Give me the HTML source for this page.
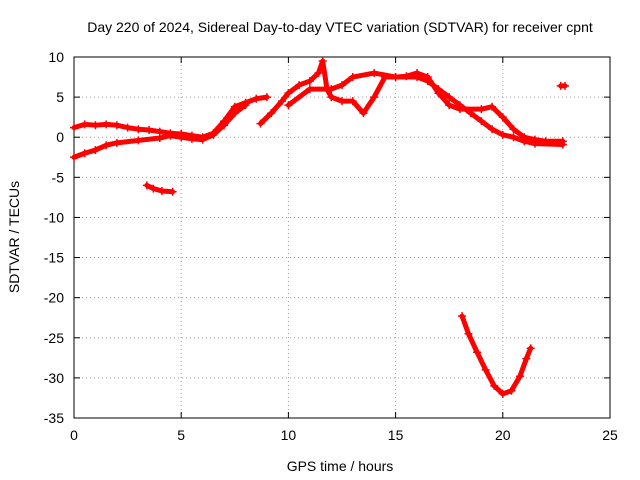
<!DOCTYPE html>
<html><head><meta charset="utf-8"><style>
body{margin:0;background:#fff;}
svg{display:block;font-family:"Liberation Sans",sans-serif;}
</style></head><body>
<svg id="c" width="640" height="480"></svg>
<script>
const xTicks=[0,5,10,15,20,25];
const yTicks=[10,5,0,-5,-10,-15,-20,-25,-30,-35];
const seriesUpper=[[0,1.2],[0.5,1.6],[1,1.5],[1.5,1.6],[2,1.5],[2.5,1.2],[3,1],[3.5,0.9],[4,0.7],[4.5,0.5],[5,0.4],[5.5,0.2],[6,0],[6.5,0.5],[7,2],[7.5,3.8],[8,4.3],[8.5,4.8],[9,5]];
const seriesLower=[[0,-2.5],[0.5,-2],[1,-1.6],[1.5,-1],[2,-0.7],[3,-0.4],[4,-0.1],[4.5,0.2],[5,0],[5.5,-0.2],[6,-0.3],[6.5,0.3],[7,1.5],[7.5,3],[8,4]];
const seriesShort=[[3.4,-6],[3.7,-6.4],[4.1,-6.7],[4.6,-6.8]];
const seriesMain=[[8.7,1.7],[9.2,3],[9.7,4.5],[10,5.5],[10.5,6.5],[11,7],[11.4,8],[11.6,9.5],[11.8,6],[12,5],[12.5,4.5],[13,4.5],[13.5,3],[14,5],[14.5,7.5],[15,7.5],[15.5,7.6],[16,8],[16.5,7.5],[17,5.5],[17.5,4],[18,3.5],[19,3.5],[19.5,3.8],[20,2.5],[20.5,1],[21,0],[21.5,-0.3],[22,-0.5],[22.8,-0.5]];
const seriesSecond=[[10,4],[11,6],[12,6],[12.5,6.5],[13,7.5],[14,8],[15,7.5],[16,7.5],[16.5,7],[17,6],[17.5,5],[18,4],[18.5,3],[19,2],[19.5,1],[20,0.3],[20.5,0],[21,-0.5],[21.5,-0.8],[22.8,-0.9]];
const seriesDip=[[18.1,-22.3],[18.4,-24.5],[18.8,-26.8],[19.2,-29],[19.6,-31],[20,-32],[20.4,-31.6],[20.8,-29.8],[21.1,-27.6],[21.3,-26.3]];
const seriesDot=[[22.7,6.4],[22.9,6.4]];
const L=74,R=610,T=57,B=418;
const X=v=>L+(v-0)/25*(R-L), Y=v=>T+(10-v)/45*(B-T);
const svg=document.getElementById('c'),NS='http://www.w3.org/2000/svg';
function mk(t,a,p){const e=document.createElementNS(NS,t);for(const k in a)e.setAttribute(k,a[k]);(p||svg).appendChild(e);return e;}
const grid=mk('g',{});


xTicks.forEach(v=>{if(v>0&&v<25)mk('line',{x1:X(v),x2:X(v),y1:T,y2:B,stroke:'#a0a0a0','stroke-dasharray':'1,3'},grid);
 const t=mk('text',{x:X(v),y:B+22,'text-anchor':'middle','font-size':14});t.textContent=v;
 
 
 mk('line',{x1:X(v),x2:X(v),y1:B,y2:B-6,stroke:'#000'});mk('line',{x1:X(v),x2:X(v),y1:T,y2:T+6,stroke:'#000'});});
yTicks.forEach(v=>{if(v<10&&v>-35)mk('line',{x1:L,x2:R,y1:Y(v),y2:Y(v),stroke:'#a0a0a0','stroke-dasharray':'1,3'},grid);
 const t=mk('text',{x:L-10,y:Y(v)+5,'text-anchor':'end','font-size':14});t.textContent=v;
 
 
 mk('line',{x1:L,x2:L+6,y1:Y(v),y2:Y(v),stroke:'#000'});mk('line',{x1:R,x2:R-6,y1:Y(v),y2:Y(v),stroke:'#000'});});
const frame=mk('rect',{x:L,y:T,width:R-L,height:B-T,fill:'none',stroke:'#000'});


[seriesUpper,seriesLower,seriesShort,seriesMain,seriesSecond,seriesDip,seriesDot].forEach((s,i)=>{
 const g=mk('g',{});
 
 
 mk('polyline',{points:s.map(p=>X(p[0])+','+Y(p[1])).join(' '),fill:'none',stroke:'#f00','stroke-width':5,'stroke-linejoin':'round','stroke-linecap':'round'},g);
 s.forEach(p=>{const x=X(p[0]),y=Y(p[1]);mk('path',{d:`M${x-4},${y}H${x+4}M${x},${y-4}V${y+4}`,stroke:'#f00','stroke-width':1.5},g);});
});
const title=mk('text',{x:340,y:32,'text-anchor':'middle','font-size':14});title.textContent='Day 220 of 2024, Sidereal Day-to-day VTEC variation (SDTVAR) for receiver cpnt';


const xl=mk('text',{x:340,y:471,'text-anchor':'middle','font-size':14});xl.textContent='GPS time / hours';


const yl=mk('text',{x:19,y:237,'text-anchor':'middle','font-size':14,transform:'rotate(-90 19 237)'});yl.textContent='SDTVAR / TECUs';


</script>
</body></html>
